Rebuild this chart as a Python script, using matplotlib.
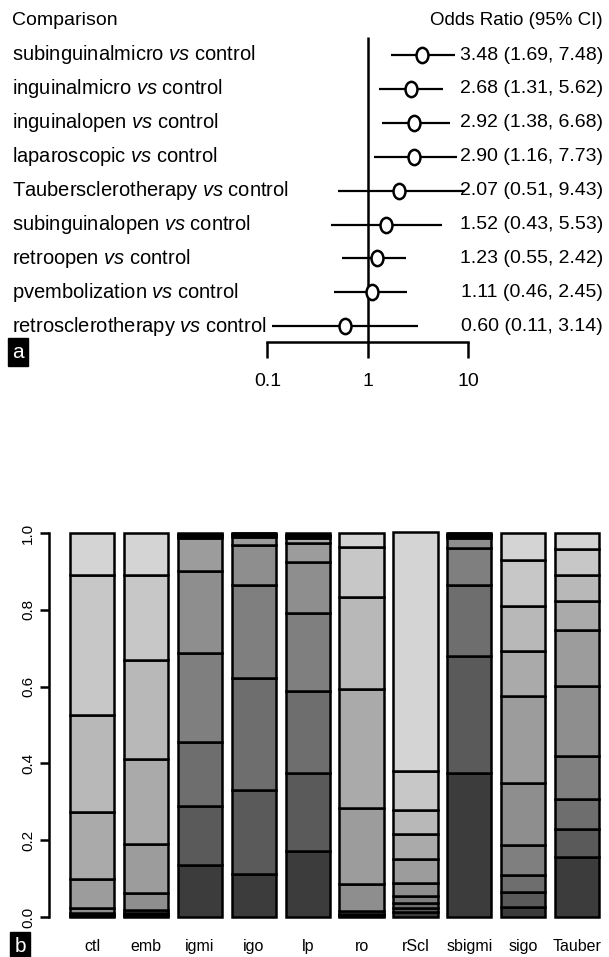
import numpy as np
import matplotlib
matplotlib.use("Agg")
import matplotlib.pyplot as plt
import matplotlib.transforms as mtransforms
from matplotlib.path import Path

plt.rcParams['font.family'] = ['Liberation Sans', 'DejaVu Sans']
plt.rcParams['mathtext.fontset'] = 'custom'
plt.rcParams['mathtext.rm'] = 'Liberation Sans'
plt.rcParams['mathtext.it'] = 'Liberation Sans:italic'

# ---------------- data: panel a (forest plot) ----------------
comparisons = ["subinguinalmicro", "inguinalmicro", "inguinalopen", "laparoscopic",
               "Taubersclerotherapy", "subinguinalopen", "retroopen",
               "pvembolization", "retrosclerotherapy"]
odds_ratio = [3.48, 2.68, 2.92, 2.90, 2.07, 1.52, 1.23, 1.11, 0.60]
ci_low = [1.69, 1.31, 1.38, 1.16, 0.51, 0.43, 0.55, 0.46, 0.11]
ci_high = [7.48, 5.62, 6.68, 7.73, 9.43, 5.53, 2.42, 2.45, 3.14]
or_ticks = [0.1, 1, 10]
or_tick_labels = ["0.1", "1", "10"]

# ---------------- data: panel b (stacked proportions) ----------------
groups = ["ctl", "emb", "igmi", "igo", "lp", "ro", "rScl", "sbigmi", "sigo", "Tauber"]
# proportion of each category (cat1 bottom ... cat10 top) per group
cat1 = [0.003, 0.003, 0.135, 0.111, 0.172, 0.003, 0.014, 0.374, 0.027, 0.157]
cat2 = [0.003, 0.003, 0.154, 0.220, 0.202, 0.003, 0.010, 0.306, 0.037, 0.072]
cat3 = [0.000, 0.004, 0.166, 0.292, 0.215, 0.003, 0.013, 0.185, 0.046, 0.078]
cat4 = [0.004, 0.007, 0.232, 0.242, 0.202, 0.007, 0.018, 0.095, 0.078, 0.112]
cat5 = [0.013, 0.046, 0.215, 0.104, 0.134, 0.069, 0.033, 0.028, 0.161, 0.183]
cat6 = [0.075, 0.127, 0.084, 0.021, 0.048, 0.200, 0.064, 0.005, 0.226, 0.145]
cat7 = [0.175, 0.221, 0.006, 0.004, 0.013, 0.310, 0.064, 0.003, 0.119, 0.077]
cat8 = [0.253, 0.257, 0.003, 0.004, 0.005, 0.239, 0.063, 0.002, 0.117, 0.067]
cat9 = [0.365, 0.223, 0.002, 0.002, 0.004, 0.130, 0.101, 0.002, 0.118, 0.067]
cat10 = [0.109, 0.109, 0.003, 0.000, 0.005, 0.036, 0.622, 0.000, 0.072, 0.042]
yticks_b = [0.0, 0.2, 0.4, 0.6, 0.8, 1.0]
ytick_labels_b = ["0.0", "0.2", "0.4", "0.6", "0.8", "1.0"]

palette = ["#3c3c3c", "#5a5a5a", "#6e6e6e", "#7f7f7f", "#8e8e8e",
           "#9c9c9c", "#aaaaaa", "#b8b8b8", "#c7c7c7", "#d4d4d4"]

W, H = 609, 957
fig = plt.figure(figsize=(W / 100, H / 100), dpi=100)

# ---------------- panel a ----------------
row0_px, row_step = 55.0, 33.9
top_px, bot_px = 0.0, 400.0
ax1 = fig.add_axes([0, 1 - bot_px / H, 1, (bot_px - top_px) / H])
one_px, dec_px = 367.7, 100.3
ax1.set_xscale('log')
ax1.set_xlim(10 ** ((0 - one_px) / dec_px), 10 ** ((W - one_px) / dec_px))
ax1.set_ylim((bot_px - row0_px) / row_step, (top_px - row0_px) / row_step)
ax1.patch.set_visible(False)

rows = np.arange(len(comparisons))
axis_k = (342 - row0_px) / row_step
ax1.vlines(1, (37 - row0_px) / row_step, axis_k, color='black', lw=1.8)
ax1.hlines(rows, ci_low, ci_high, color='black', lw=1.6)
circ = Path.unit_circle()
oval = Path(circ.vertices * np.array([0.78, 1.0]), circ.codes)
ax1.plot(odds_ratio, rows, linestyle='none', marker=oval, ms=11, mfc='white',
         mec='black', mew=1.8, zorder=3)

blend = mtransforms.blended_transform_factory(ax1.transAxes, ax1.transData)
ax1.text(12 / W, -1.03, "Comparison", transform=blend, fontsize=14, va='center', ha='left')
ax1.text(603 / W, -1.03, "Odds Ratio (95% CI)", transform=blend, fontsize=13.5,
         va='center', ha='right')
for k, name in enumerate(comparisons):
    ax1.text(12 / W, k, name + r" $\mathit{vs}$ control", transform=blend,
             fontsize=14.5, va='center', ha='left')
    ax1.text(603 / W, k, f"{odds_ratio[k]:.2f} ({ci_low[k]:.2f}, {ci_high[k]:.2f})",
             transform=blend, fontsize=14, va='center', ha='right')

for s in ['top', 'right', 'left']:
    ax1.spines[s].set_visible(False)
ax1.spines['bottom'].set_position(('data', axis_k))
ax1.spines['bottom'].set_bounds(or_ticks[0], or_ticks[-1])
ax1.spines['bottom'].set_linewidth(1.8)
ax1.set_xticks(or_ticks)
ax1.set_xticklabels(or_tick_labels, fontsize=14)
ax1.xaxis.set_minor_locator(matplotlib.ticker.NullLocator())
ax1.tick_params(axis='x', direction='out', length=11.5, width=1.8, pad=10.5)
ax1.set_yticks([])

fig.text(18 / W, 1 - 352 / H, "a", color='white', fontsize=15, ha='center', va='center',
         bbox=dict(boxstyle='square,pad=0.22', fc='black', ec='black'))

# ---------------- panel b ----------------
x0_px, pitch = 92.2, 53.87
spine_px = 49
ax2 = fig.add_axes([spine_px / W, 1 - 917 / H, (W - spine_px) / W, 384 / H])
ax2.set_xlim((spine_px - x0_px) / pitch, (W - x0_px) / pitch)
ax2.set_ylim(0, 1)
ax2.patch.set_visible(False)

cats = [cat1, cat2, cat3, cat4, cat5, cat6, cat7, cat8, cat9, cat10]
xpos = np.arange(len(groups))
bottom = np.zeros(len(groups))
for ci, vals in enumerate(cats):
    vals = np.array(vals)
    ax2.bar(xpos, vals, bottom=bottom, width=0.82, color=palette[ci],
            edgecolor='black', linewidth=1.8, clip_on=False)
    bottom += vals

for s in ['top', 'right', 'bottom']:
    ax2.spines[s].set_visible(False)
ax2.spines['left'].set_bounds(0, 1)
ax2.spines['left'].set_linewidth(1.8)
ax2.set_yticks(yticks_b)
ax2.set_yticklabels(ytick_labels_b, rotation=90, va='center', fontsize=11)
ax2.tick_params(axis='y', direction='out', length=6.5, width=1.8, pad=3.5)
ax2.set_xticks(xpos)
ax2.set_xticklabels(groups, fontsize=11.5)
ax2.tick_params(axis='x', length=0, pad=16)

fig.text(20 / W, 1 - 946 / H, "b", color='white', fontsize=15, ha='center', va='center',
         bbox=dict(boxstyle='square,pad=0.22', fc='black', ec='black'))

fig.savefig("out.png", dpi=100)
